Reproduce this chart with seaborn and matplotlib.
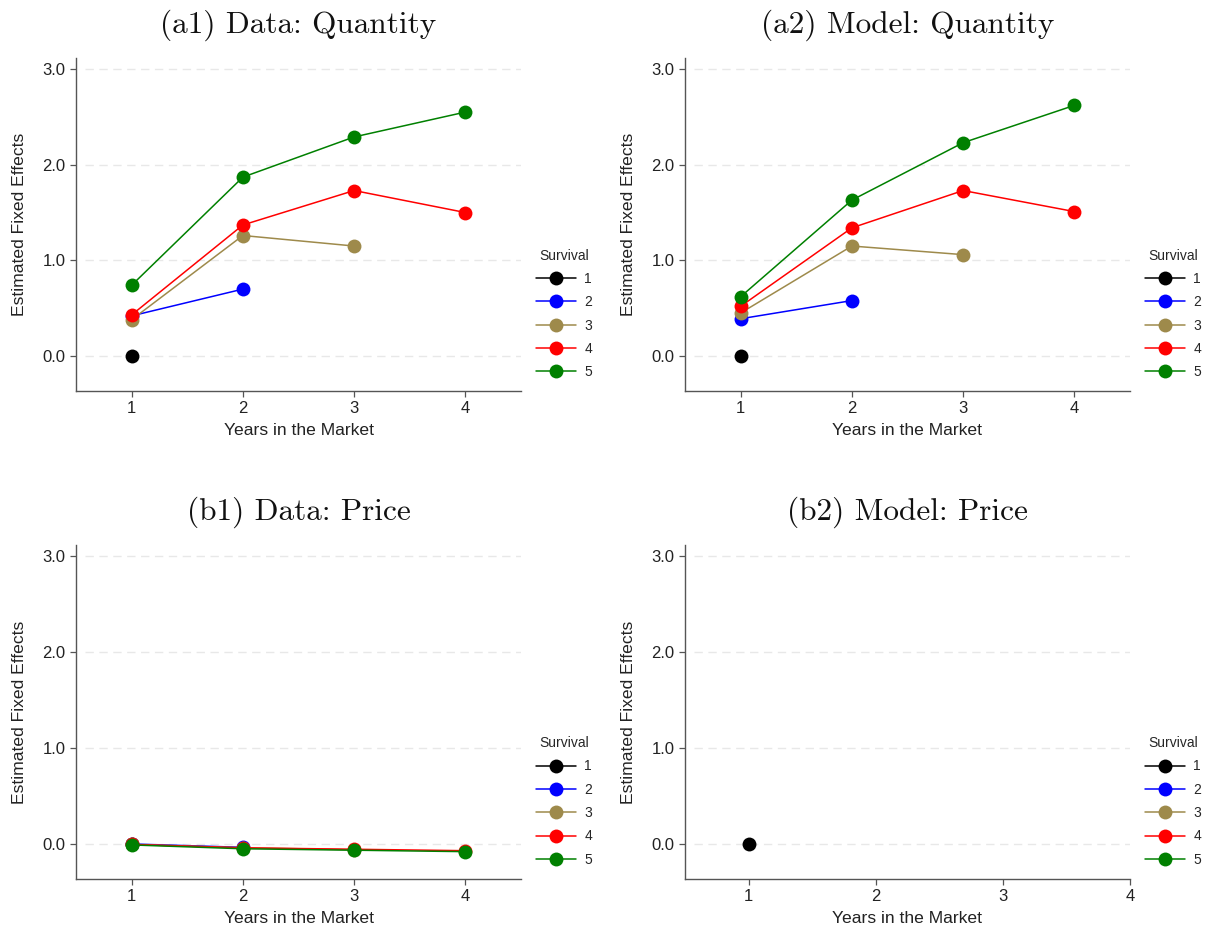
import numpy as np
import pandas as pd
import matplotlib
matplotlib.use("Agg")
import matplotlib.pyplot as plt
from matplotlib.lines import Line2D
import seaborn as sns

# ---- data ----
years = [1, 2, 3, 4]
survival_groups = ["1", "2", "3", "4", "5"]
colors = ["#000000", "#0000ff", "#9e8a4b", "#ff0000", "#008000"]

# (a1) Data: Quantity
a1_s1 = [0.00, np.nan, np.nan, np.nan]
a1_s2 = [0.42, 0.70, np.nan, np.nan]
a1_s3 = [0.38, 1.26, 1.15, np.nan]
a1_s4 = [0.43, 1.37, 1.73, 1.50]
a1_s5 = [0.74, 1.87, 2.29, 2.55]

# (a2) Model: Quantity
a2_s1 = [0.00, np.nan, np.nan, np.nan]
a2_s2 = [0.39, 0.58, np.nan, np.nan]
a2_s3 = [0.45, 1.15, 1.06, np.nan]
a2_s4 = [0.52, 1.34, 1.73, 1.51]
a2_s5 = [0.62, 1.63, 2.23, 2.62]

# (b1) Data: Price
b1_s1 = [0.00, np.nan, np.nan, np.nan]
b1_s2 = [0.00, -0.035, np.nan, np.nan]
b1_s3 = [-0.005, -0.04, -0.06, np.nan]
b1_s4 = [-0.005, -0.04, -0.055, -0.07]
b1_s5 = [-0.01, -0.05, -0.065, -0.08]

# (b2) Model: Price
b2_s1 = [0.00, np.nan, np.nan, np.nan]
b2_s2 = [np.nan, np.nan, np.nan, np.nan]
b2_s3 = [np.nan, np.nan, np.nan, np.nan]
b2_s4 = [np.nan, np.nan, np.nan, np.nan]
b2_s5 = [np.nan, np.nan, np.nan, np.nan]

titles = ["(a1) Data: Quantity", "(a2) Model: Quantity",
          "(b1) Data: Price", "(b2) Model: Price"]
yticks = [0.0, 1.0, 2.0, 3.0]
xlabel = "Years in the Market"
ylabel = "Estimated Fixed Effects"
legend_title = "Survival"

panels = [
    [a1_s1, a1_s2, a1_s3, a1_s4, a1_s5],
    [a2_s1, a2_s2, a2_s3, a2_s4, a2_s5],
    [b1_s1, b1_s2, b1_s3, b1_s4, b1_s5],
    [b2_s1, b2_s2, b2_s3, b2_s4, b2_s5],
]
xlims = [(0.5, 4.5), (0.5, 4.5), (0.5, 4.5), (0.5, 4.0)]

sns.set_theme(style="white")
plt.rcParams["font.family"] = ["Liberation Sans", "DejaVu Sans"]

fig = plt.figure(figsize=(12.09, 9.35), dpi=100)
W, H = 1209, 935
boxes = [(76, 58, 521, 391), (685, 58, 1130, 391),
         (76, 545, 521, 879), (685, 545, 1130, 879)]

palette = dict(zip(survival_groups, colors))
spine_col = "#555555"

for i, (series, box) in enumerate(zip(panels, boxes)):
    l, t, r, b = box
    ax = fig.add_axes([l / W, 1 - b / H, (r - l) / W, (b - t) / H])
    rows = []
    for g, vals in zip(survival_groups, series):
        for x, v in zip(years, vals):
            rows.append({"year": x, "value": v, "survival": g})
    df = pd.DataFrame(rows).dropna()
    for ycoord in yticks:
        ax.axhline(ycoord, color="#e8e8e8", lw=1.0, ls=(0, (6, 4)), zorder=0,
                   xmin=0.02)
    if len(df):
        sns.lineplot(data=df, x="year", y="value", hue="survival",
                     hue_order=[g for g in survival_groups if g in set(df["survival"])],
                     palette=palette, marker="o", markersize=10,
                     markeredgewidth=0, linewidth=1.1, legend=False, ax=ax,
                     estimator=None, sort=True)
    ax.set_xlim(*xlims[i])
    ax.set_ylim(-0.365, 3.115)
    ax.set_xticks(years)
    ax.set_yticks(yticks)
    ax.set_yticklabels([f"{v:.1f}" for v in yticks])
    ax.set_xlabel(xlabel, fontsize=12.6, color="#222222", labelpad=5)
    ax.set_ylabel(ylabel, fontsize=12.6, color="#222222", labelpad=11)
    ax.tick_params(axis="both", labelsize=12, colors="#222222", length=4,
                   width=0.9, direction="out", bottom=True, left=True)
    ax.tick_params(axis="both", color=spine_col)
    for s in ["top", "right"]:
        ax.spines[s].set_visible(False)
    for s in ["left", "bottom"]:
        ax.spines[s].set_color(spine_col)
        ax.spines[s].set_linewidth(1.0)
    ax.set_title(titles[i], fontfamily="cmr10", fontsize=22.5, pad=18,
                 color="#111111")
    handles = [Line2D([0], [0], color=c, marker="o", markersize=10,
                      markeredgewidth=0, lw=1.1) for c in colors]
    leg = ax.legend(handles, survival_groups, title=legend_title,
                    loc="upper left", bbox_to_anchor=(1.005, 0.465),
                    frameon=False, fontsize=10, title_fontsize=10,
                    handlelength=2.9, handletextpad=0.6, labelspacing=0.67)

fig.savefig("out.png", dpi=100, facecolor="white")
